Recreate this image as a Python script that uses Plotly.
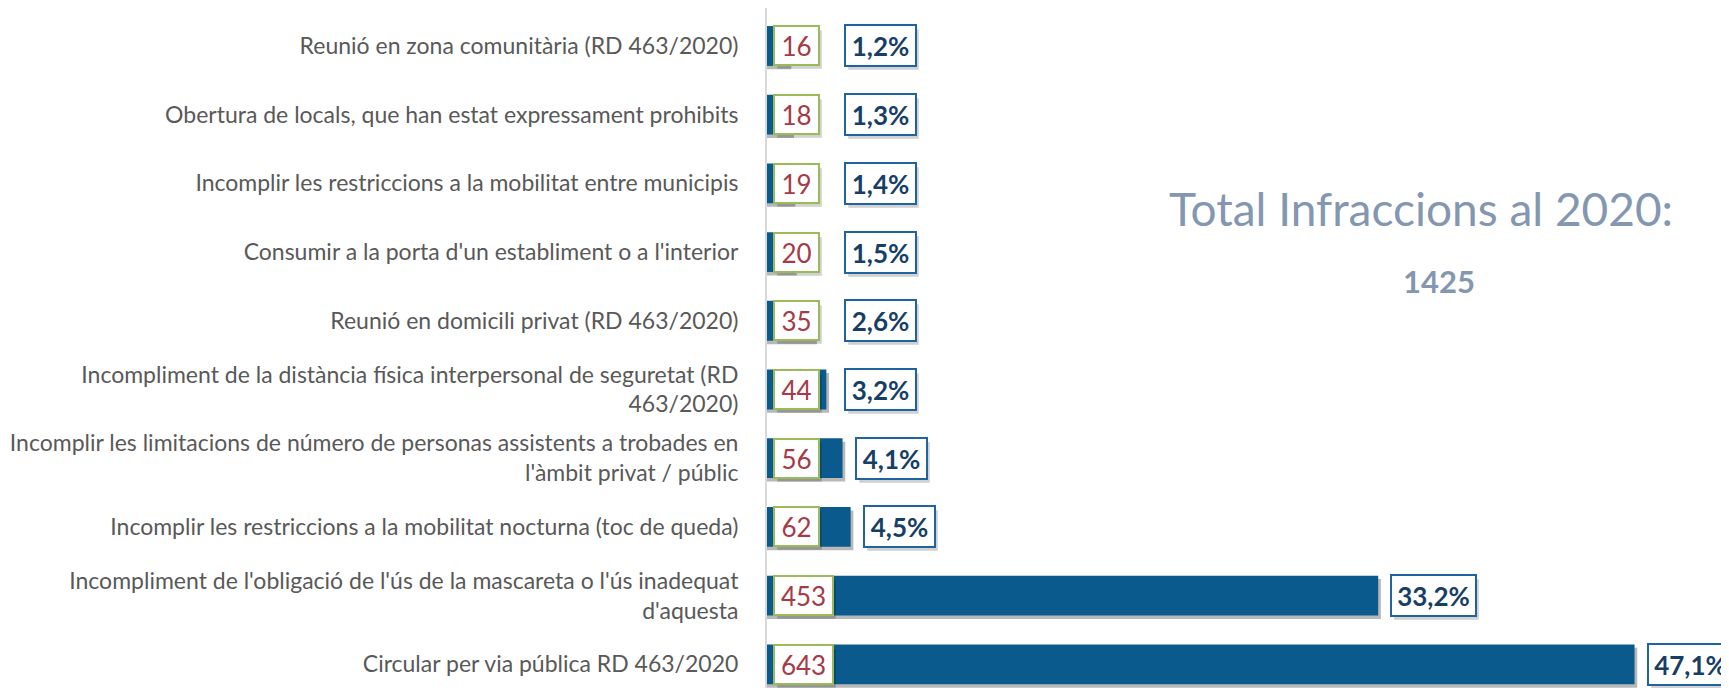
"""Infraccions 2020 - horizontal bar chart with boxed labels."""
import plotly.graph_objects as go

# Data (top to bottom as shown)
categories = [
    "Reunió en zona comunitària (RD 463/2020)",
    "Obertura de locals, que han estat expressament prohibits",
    "Incomplir les restriccions a la mobilitat entre municipis",
    "Consumir a la porta d'un establiment o a l'interior",
    "Reunió en domicili privat (RD 463/2020)",
    "Incompliment de la distància física interpersonal de seguretat (RD<br>463/2020)",
    "Incomplir les limitacions de número de personas assistents a trobades en<br>l'àmbit privat / públic",
    "Incomplir les restriccions a la mobilitat nocturna (toc de queda)",
    "Incompliment de l'obligació de l'ús de la mascareta o l'ús inadequat<br>d'aquesta",
    "Circular per via pública RD 463/2020",
]
counts = [16, 18, 19, 20, 35, 44, 56, 62, 453, 643]
percents = [1.2, 1.3, 1.4, 1.5, 2.6, 3.2, 4.1, 4.5, 33.2, 47.1]
total_title = "Total Infraccions al 2020:"
total_value = 1425

FONT = "Lato"
BAR_COLOR = "#0A5A8E"
LABEL_GREY = "#595959"

fig = go.Figure()

# soft drop shadow under each bar
fig.add_trace(go.Bar(
    y=categories,
    x=[c + 2 for c in counts],
    orientation='h',
    width=0.58,
    offset=-0.24,
    marker=dict(color='rgba(0,0,0,0.28)', line=dict(width=0)),
    hoverinfo='skip',
    showlegend=False,
))
fig.add_trace(go.Bar(
    y=categories,
    x=counts,
    orientation='h',
    width=0.58,
    offset=-0.29,
    marker=dict(color=BAR_COLOR, line=dict(width=0)),
    showlegend=False,
))

annotations = []
for cat, n, p in zip(categories, counts, percents):
    n_txt = str(n)
    p_txt = f"{p:.1f}".replace('.', ',') + "%"
    n_w = 14 * len(n_txt) + 19
    p_w = 14 * len(p_txt) + 17
    p_x = max(n, 48)

    # shadows behind boxes
    for x, xs, w, h in [(0, 6, n_w, 41), (p_x, 12, p_w, 43)]:
        annotations.append(dict(
            x=x, y=cat, xref='x', yref='y', text="", showarrow=False,
            xanchor='left', yanchor='middle', xshift=xs + 4, yshift=-4,
            width=w - 6, height=h - 6, bgcolor='rgba(0,0,0,0.18)',
            borderpad=1, borderwidth=1, bordercolor='rgba(0,0,0,0.06)',
        ))

    # count box
    annotations.append(dict(
        x=0, y=cat, xref='x', yref='y', text=n_txt, showarrow=False,
        xanchor='left', yanchor='middle', xshift=6,
        width=n_w - 8, height=41 - 8, align='center', valign='middle',
        bgcolor='white', bordercolor='#9BBB59', borderwidth=2, borderpad=2,
        font=dict(family=FONT, size=26, color='#A63A46'),
    ))
    # percent box
    annotations.append(dict(
        x=p_x, y=cat, xref='x', yref='y', text=f"<b>{p_txt}</b>", showarrow=False,
        xanchor='left', yanchor='middle', xshift=12,
        width=p_w - 8, height=43 - 8, align='center', valign='middle',
        bgcolor='white', bordercolor='#1F64A0', borderwidth=2, borderpad=2,
        font=dict(family=FONT, size=26, color='#173F66'),
    ))

annotations.append(dict(
    x=0.68, y=0.705, xref='paper', yref='paper', text=total_title,
    showarrow=False, xanchor='center', yanchor='middle',
    font=dict(family=FONT, size=46, color='#8497B0'),
))
annotations.append(dict(
    x=0.699, y=0.598, xref='paper', yref='paper', text=f"<b>{total_value}</b>",
    showarrow=False, xanchor='center', yanchor='middle',
    font=dict(family=FONT, size=31, color='#8497B0'),
))

# the page body adds an 8px margin, so the figure is 8px smaller than the window
fig.update_layout(
    width=1721,
    height=680,
    barmode='overlay',
    margin=dict(l=759, r=0, t=0, b=0),
    plot_bgcolor='white',
    paper_bgcolor='white',
    annotations=annotations,
    xaxis=dict(range=[0, 713], visible=False, showgrid=False, zeroline=False,
               automargin=False),
    yaxis=dict(
        type='category',
        categoryorder='array',
        categoryarray=categories,
        range=[len(categories) - 1 + 0.345, -0.553],
        automargin=False,
        showgrid=False,
        zeroline=False,
        showline=True,
        linecolor='#D9D9D9',
        linewidth=2,
        ticks='',
        ticklabelstandoff=22,
        tickfont=dict(family=FONT, size=23, color=LABEL_GREY),
    ),
)

fig.write_html("out.html")
